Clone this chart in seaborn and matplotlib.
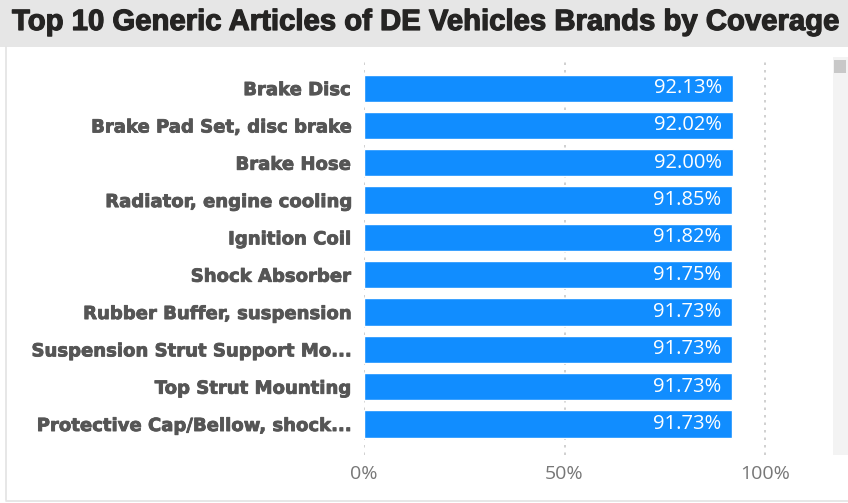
import matplotlib
matplotlib.use("Agg")
import matplotlib.pyplot as plt
import matplotlib.patheffects as pe
import seaborn as sns
import pandas as pd
from matplotlib.patches import Rectangle
from matplotlib.lines import Line2D

categories = ["Brake Disc", "Brake Pad Set, disc brake", "Brake Hose",
              "Radiator, engine cooling", "Ignition Coil", "Shock Absorber",
              "Rubber Buffer, suspension", "Suspension Strut Support Mo...",
              "Top Strut Mounting", "Protective Cap/Bellow, shock..."]
coverage = [92.13, 92.02, 92.00, 91.85, 91.82, 91.75, 91.73, 91.73, 91.73, 91.73]
x_ticks = [0, 50, 100]
x_tick_labels = ["0%", "50%", "100%"]
title = "Top 10 Generic Articles of DE Vehicles Brands by Coverage"

df = pd.DataFrame({"article": categories, "coverage": coverage})

sns.set_theme(style="white")
plt.rcParams['font.family'] = ['Liberation Sans', 'DejaVu Sans']

W, H = 848, 503
fig = plt.figure(figsize=(W / 100, H / 100), dpi=100)
fig.patch.set_facecolor("white")

# title band
fig.add_artist(Rectangle((0, 1 - 47 / H), 1, 47 / H, transform=fig.transFigure,
                         facecolor="#e6e6e6", edgecolor="none", zorder=0))
fig.text(12 / W, 1 - 22 / H, title, fontsize=21.1, fontweight="bold",
         color="#252423", ha="left", va="center",
         path_effects=[pe.withStroke(linewidth=0.9, foreground="#252423")])
# panel borders
fig.add_artist(Line2D([5.5 / W, 5.5 / W], [1 - 47 / H, 1 - 500 / H],
                      transform=fig.transFigure, color="#e3e3e3", lw=1.2))
fig.add_artist(Line2D([5.5 / W, 1], [1 - 500.5 / H, 1 - 500.5 / H],
                      transform=fig.transFigure, color="#e3e3e3", lw=1.2))
# scrollbar
fig.add_artist(Rectangle((833 / W, 1 - 455 / H), 15 / W, 398 / H,
                         transform=fig.transFigure, facecolor="#f3f3f3",
                         edgecolor="none"))
fig.add_artist(Rectangle((834 / W, 1 - 73 / H), 12 / W, 13 / H,
                         transform=fig.transFigure, facecolor="#c8c8c8",
                         edgecolor="none"))

left, right = 364, 820
top, bottom = 62, 455
ax = fig.add_axes([left / W, 1 - bottom / H, (right - left) / W, (bottom - top) / H])
px_per_pct = (765 - 364) / 100
ax.set_xlim(0, (right - left) / px_per_pct)

sns.barplot(data=df, x="coverage", y="article", orient="h", color="#118DFF",
            saturation=1, width=0.73, ax=ax, zorder=3)
ax.set_ylim(9.83, -0.70)

for i, v in enumerate(coverage):
    ax.text(v - 2.7, i, f"{v:.2f}%", color="white", ha="right", va="center",
            fontsize=14.5, family=["Open Sans", "DejaVu Sans"], zorder=4)

for t in x_ticks:
    ax.axvline(t, color="#c8c8c8", lw=1.2, ls=(0, (1.5, 3)), zorder=1)

ax.set_xticks(x_ticks)
ax.set_xticklabels(x_tick_labels, color="#777777", fontsize=14,
                   family=["Open Sans", "DejaVu Sans"])
ax.tick_params(axis="x", length=0, pad=7)
ax.tick_params(axis="y", length=0, pad=10)
for lab in ax.get_yticklabels():
    lab.set_fontweight("bold")
    lab.set_color("#555555")
    lab.set_fontsize(13)
    lab.set_family(["DejaVu Sans"])
    lab.set_path_effects([pe.withStroke(linewidth=0.6, foreground="#555555")])
ax.set_xlabel("")
ax.set_ylabel("")
for s in ax.spines.values():
    s.set_visible(False)
ax.set_facecolor("none")

fig.savefig("out.png", dpi=100)
